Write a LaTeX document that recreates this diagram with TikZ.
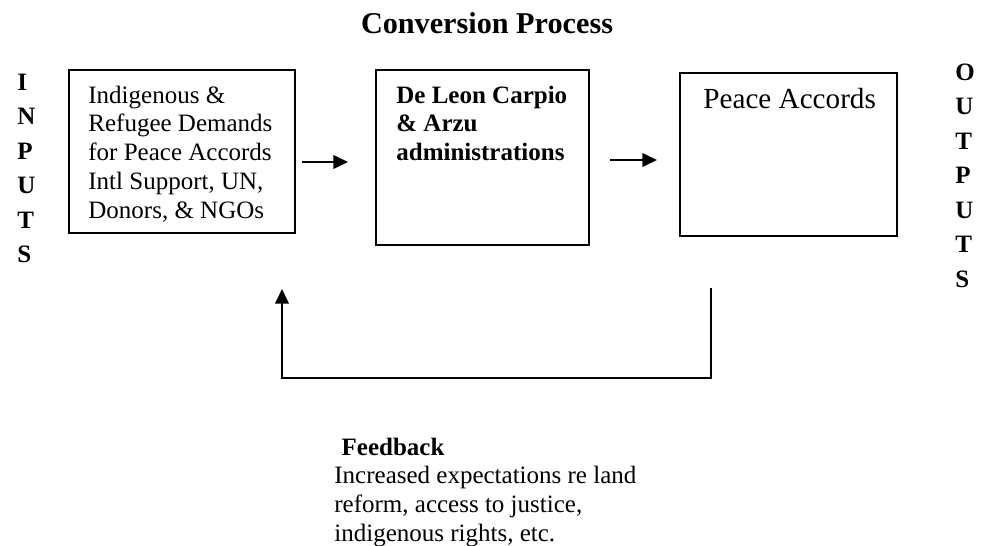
\documentclass[tikz,border=0pt]{standalone}
\usepackage{fontspec}
\setmainfont{Liberation Serif}
\usetikzlibrary{arrows.meta,fit}
\begin{document}
\begin{tikzpicture}[x=0.48pt,y=-0.48pt,
  box/.style={draw,line width=0.9pt,inner sep=0pt},
  txt/.style={anchor=base west,inner sep=0pt,font=\fontsize{12}{13.8}\selectfont},
  vert/.style={anchor=base west,inner sep=0pt,font=\fontsize{12}{16.6}\selectfont\bfseries},
  flow/.style={line width=0.9pt,-{Triangle[length=7pt,width=6.5pt]}}]
\useasboundingbox (0,0) rectangle (981,546);

% heading
\node[anchor=base,inner sep=0pt,font=\fontsize{14.5}{16}\selectfont\bfseries] (title) at (487,33) {Conversion Process};

% side labels
\node[vert] (inputs) at (17,90) {\begin{tabular}[t]{@{}l@{}}I\\N\\P\\U\\T\\S\end{tabular}};
\node[vert] (outputs) at (955,80) {\begin{tabular}[t]{@{}l@{}}O\\U\\T\\P\\U\\T\\S\end{tabular}};

% the three boxes
\node[box,fit={(69,70) (295,233)}] (b1) {};
\node[box,fit={(376,70) (589,245)}] (b2) {};
\node[box,fit={(680,73) (897,236)}] (b3) {};

\node[txt] (t1) at (88,103) {\begin{tabular}[t]{@{}l@{}}Indigenous \&\\Refugee Demands\\for Peace Accords\\Intl Support, UN,\\Donors, \& NGOs\end{tabular}};
\node[txt,font=\fontsize{12}{13.8}\selectfont\bfseries] (t2) at (396,103) {\begin{tabular}[t]{@{}l@{}}De Leon Carpio\\\& Arzu\\administrations\end{tabular}};
\node[txt,font=\fontsize{14}{16}\selectfont] (t3) at (703,108) {Peace Accords};

% forward arrows
\coordinate (a1s) at (302,162);
\coordinate (a1e) at (348,162);
\coordinate (a2s) at (610,160);
\coordinate (a2e) at (657,160);
\draw[flow] (a1s) -- (a1e);
\draw[flow] (a2s) -- (a2e);

% feedback loop
\coordinate (fbs) at (711,288);
\coordinate (fbe) at (282,289);
\draw[flow] (fbs) -- (711,378) -| (fbe);

\node[txt] (fb) at (334,455) {\begin{tabular}[t]{@{}l@{}}\hspace{3.5pt}\textbf{Feedback}\\Increased expectations re land\\reform, access to justice,\\indigenous rights, etc.\end{tabular}};
\end{tikzpicture}
\end{document}
